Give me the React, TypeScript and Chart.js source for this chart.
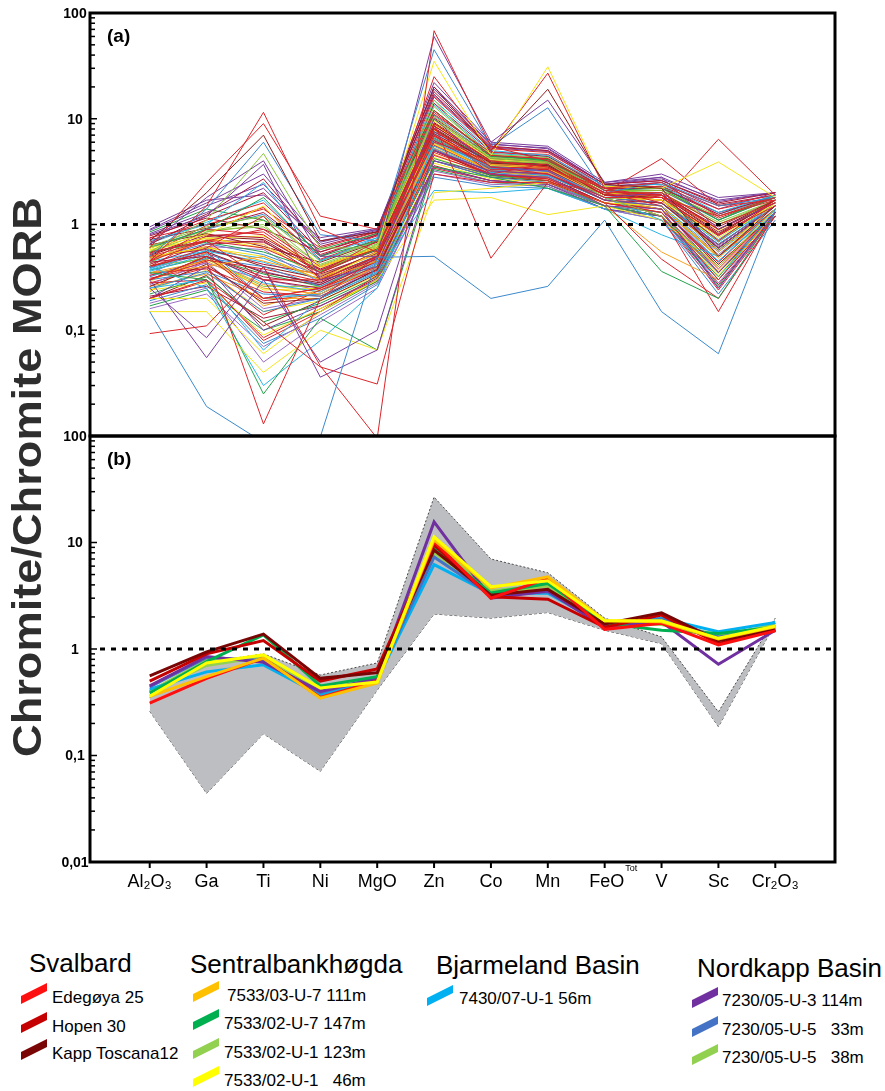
import React, { useEffect, useRef } from 'react';
import { Chart, registerables } from 'chart.js';

Chart.register(...registerables);

// ---------- data ----------
const elements = ['Al₂O₃', 'Ga', 'Ti', 'Ni', 'MgO', 'Zn', 'Co', 'Mn', 'FeO', 'V', 'Sc', 'Cr₂O₃'];
const feoSuperscript = 'Tot';
const yTickValuesA = [100, 10, 1, 0.1];
const yTickLabelsA = ['100', '10', '1', '0,1'];
const yTickValuesB = [100, 10, 1, 0.1, 0.01];
const yTickLabelsB = ['100', '10', '1', '0,1', '0,01'];
const referenceLevel = 1;
const yTitle = 'Chromite/Chromite MORB';

// Panel (a): individual chromite analyses (Al2O3 ... Cr2O3)
const panelALines: number[][] = [
  [0.15, 0.019, 0.0087, 0.0098, 0.49, 0.5, 0.2, 0.26, 1.1, 0.15, 0.06, 1.4],
  [0.093, 0.11, 0.4, 0.046, 0.0095, 68, 5.5, 4, 2.2, 2.5, 1.2, 1.8],
  [0.3, 0.45, 0.013, 0.2, 0.5, 8, 3.5, 3, 1.8, 1.8, 0.8, 1.5],
  [0.45, 1.5, 11.5, 0.9, 0.55, 6, 4, 3.5, 2, 2, 1, 1.6],
  [0.6, 2.5, 9, 1.2, 0.9, 12, 4.5, 4.2, 2.1, 1.9, 0.7, 1.7],
  [0.7, 2, 7, 0.7, 0.85, 20, 5, 19, 2.4, 2.2, 0.5, 1.5],
  [0.5, 1.4, 6, 0.8, 0.7, 45, 5.5, 12.7, 2, 2.5, 1.5, 1.8],
  [0.55, 1.1, 4.7, 0.6, 0.6, 15, 4, 3.8, 1.8, 1.2, 0.4, 1.4],
  [0.65, 1.8, 4, 0.5, 0.5, 60, 6, 15, 2.5, 2.8, 0.9, 1.6],
  [0.8, 1.2, 3.7, 0.3, 0.4, 10, 3.5, 3.2, 1.7, 1.5, 0.35, 1.3],
  [0.2, 0.3, 0.12, 0.045, 0.031, 3, 2.5, 2.5, 1.6, 1.3, 0.3, 1.2],
  [0.25, 0.085, 0.4, 0.036, 0.065, 4, 3, 2.8, 1.5, 1.4, 0.25, 1.3],
  [0.3, 0.055, 0.3, 0.05, 0.1, 5, 3.2, 3, 1.8, 2, 0.6, 1.5],
  [0.15, 0.15, 0.04, 0.1, 0.065, 2, 2.2, 2.5, 1.6, 1.5, 0.5, 1.6],
  [0.35, 0.3, 0.025, 0.13, 0.065, 3.5, 2.8, 2.2, 1.5, 0.36, 0.2, 1.3],
  [0.4, 0.25, 0.03, 0.08, 0.25, 6, 3.5, 3.2, 1.8, 1.1, 0.3, 1.4],
  [0.5, 0.7, 0.3, 0.3, 0.5, 9, 0.48, 2.5, 2, 1.5, 0.5, 1.4],
  [0.6, 0.8, 1.5, 0.4, 0.6, 35, 4.5, 31, 2.3, 2.2, 3.9, 1.8],
  [0.45, 0.9, 0.8, 0.35, 0.7, 25, 5, 27, 2.2, 1.8, 1.2, 1.7],
  [0.55, 0.7, 0.6, 0.35, 0.6, 7, 3.5, 3.4, 2.2, 1.6, 6.4, 1.9],
  [0.4, 0.6, 1.2, 0.3, 0.5, 8, 3, 3.8, 2, 4.2, 1.5, 1.7],
  [0.3, 0.5, 0.2, 0.25, 0.4, 5, 3, 2.6, 1.6, 0.47, 0.2, 1.2],
  [0.35, 0.4, 0.5, 0.3, 0.45, 6, 3.2, 2.8, 1.5, 0.55, 0.3, 1.3],
  [0.4, 0.55, 0.2, 0.25, 0.45, 7, 3.3, 3.3, 1.8, 1.2, 0.15, 1.3],
  [0.2, 0.2, 0.06, 0.15, 0.3, 1.7, 1.8, 1.24, 1.5, 1.1, 0.4, 1.4],
  [0.25, 0.3, 0.065, 0.2, 0.35, 2.1, 2, 2.2, 1.4, 0.8, 0.5, 1.2],
  [0.3, 0.5, 0.3, 0.25, 0.45, 5, 3.2, 3, 1.7, 1.6, 0.6, 1.5],
  [0.45, 0.7, 0.9, 0.4, 0.6, 9, 4, 3.5, 1.9, 1.9, 0.9, 1.6],
  [0.25, 0.35, 0.15, 0.2, 0.35, 4, 2.8, 2.5, 1.5, 1.3, 0.35, 1.3],
  [0.6, 0.9, 1.8, 0.5, 0.7, 12, 4.5, 4, 2.1, 2.2, 1.1, 1.8],
  [0.5, 0.6, 0.5, 0.3, 0.55, 7, 3.6, 3.4, 1.8, 1.7, 0.7, 1.6],
  [0.2, 0.4, 0.1, 0.17, 0.3, 3.5, 2.6, 2.4, 1.4, 1.2, 0.3, 1.2],
  [0.7, 1.0, 2.5, 0.45, 0.75, 15, 5, 4.5, 2.3, 2.4, 1.3, 1.9],
  [0.35, 0.45, 0.25, 0.22, 0.4, 6, 3.2, 3.1, 1.7, 1.4, 0.5, 1.4],
  [0.4, 0.55, 0.35, 0.28, 0.5, 8, 3.8, 3.6, 1.9, 1.8, 0.8, 1.7],
  [0.55, 0.85, 1.0, 0.35, 0.65, 10, 4.2, 3.9, 2, 2, 1, 1.6],
  [0.28, 0.3, 0.08, 0.15, 0.33, 4.5, 3, 2.7, 1.6, 1.4, 0.4, 1.3],
  [0.65, 1.2, 2, 0.55, 0.8, 18, 5.5, 5, 2.4, 2.6, 1.6, 2],
  [0.18, 0.25, 0.05, 0.12, 0.25, 3, 2.4, 2.3, 1.4, 1.1, 0.25, 1.2],
  [0.42, 0.65, 0.7, 0.32, 0.55, 7.5, 3.9, 3.7, 1.9, 1.9, 0.95, 1.7],
  [0.75, 1.0, 1.4, 0.6, 0.85, 11, 4.8, 4.6, 2.2, 2.3, 1.4, 1.8],
  [0.32, 0.48, 0.4, 0.26, 0.45, 6.5, 3.4, 3.2, 1.8, 1.6, 0.65, 1.5],
  [0.22, 0.32, 0.12, 0.18, 0.32, 4.2, 2.9, 2.6, 1.5, 1.2, 0.32, 1.3],
  [0.58, 0.75, 0.6, 0.4, 0.62, 9.5, 4.1, 3.8, 2, 1.8, 0.75, 1.6],
  [0.9, 1.6, 3, 0.7, 0.9, 22, 6, 5.5, 2.5, 3, 1.8, 2],
  [0.38, 0.6, 0.2, 0.22, 0.42, 5.5, 3.1, 2.9, 1.7, 1.5, 0.45, 1.4],
  [0.48, 0.62, 0.45, 0.33, 0.52, 7, 3.7, 3.5, 1.9, 1.7, 0.55, 1.5],
  [0.26, 0.42, 0.18, 0.2, 0.38, 5, 2.9, 2.8, 1.6, 1.4, 0.42, 1.3],
  [0.62, 0.95, 1.2, 0.45, 0.7, 13, 4.6, 4.3, 2.1, 2.1, 1.2, 1.8],
  [0.35, 0.38, 0.14, 0.24, 0.37, 4.8, 3, 2.7, 1.6, 1.3, 0.38, 1.3],
  [0.52, 0.8, 0.75, 0.38, 0.6, 8.5, 4, 3.7, 2, 1.9, 0.85, 1.6],
  [0.16, 0.22, 0.07, 0.14, 0.28, 3.2, 2.5, 2.4, 1.5, 1.2, 0.28, 1.2],
  [0.44, 0.5, 0.32, 0.27, 0.48, 6.2, 3.5, 3.3, 1.8, 1.6, 0.6, 1.5],
  [0.68, 1.1, 1.6, 0.52, 0.78, 16, 5.2, 4.8, 2.3, 2.4, 1.5, 1.9],
  [0.3, 0.36, 0.22, 0.21, 0.36, 5.2, 3.1, 2.9, 1.7, 1.4, 0.5, 1.4],
  [0.55, 0.68, 0.55, 0.36, 0.58, 8, 3.9, 3.6, 1.9, 1.8, 0.7, 1.6],
  [0.24, 0.28, 0.09, 0.16, 0.3, 3.8, 2.7, 2.5, 1.5, 1.3, 0.3, 1.3],
  [0.82, 1.3, 2.2, 0.65, 0.88, 20, 5.8, 5.2, 2.4, 2.7, 1.7, 2],
  [0.36, 0.52, 0.28, 0.23, 0.44, 6, 3.3, 3, 1.7, 1.5, 0.55, 1.4],
  [0.46, 0.72, 0.65, 0.31, 0.56, 7.8, 3.8, 3.5, 1.9, 1.7, 0.8, 1.7],
  [0.2, 0.33, 0.11, 0.19, 0.34, 4, 2.8, 2.6, 1.5, 1.2, 0.35, 1.2],
  [0.6, 0.88, 0.95, 0.42, 0.66, 10.5, 4.3, 4, 2.1, 2, 1, 1.7],
  [0.33, 0.46, 0.38, 0.29, 0.47, 6.8, 3.5, 3.3, 1.8, 1.6, 0.65, 1.5],
  [0.72, 0.92, 1.3, 0.5, 0.8, 14, 4.9, 4.4, 2.2, 2.2, 1.3, 1.8],
  [0.27, 0.44, 0.16, 0.2, 0.4, 5, 3, 2.8, 1.6, 1.4, 0.45, 1.4],
  [0.5, 0.58, 0.42, 0.34, 0.53, 7.2, 3.7, 3.4, 1.9, 1.7, 0.6, 1.5],
  [0.4, 0.78, 0.85, 0.37, 0.6, 9, 4, 3.8, 2, 2, 0.9, 1.6],
  [0.19, 0.27, 0.075, 0.13, 0.27, 2.8, 2.3, 2.2, 1.4, 1.1, 0.22, 1.1],
  [0.85, 1.4, 1.1, 0.58, 0.82, 12, 4.4, 4.1, 2.2, 2.3, 1.1, 1.9],
  [0.29, 0.5, 0.24, 0.25, 0.41, 5.8, 3.2, 3, 1.7, 1.5, 0.5, 1.4],
  [0.95, 1.7, 1.9, 0.75, 0.92, 16.5, 5.3, 4.9, 2.3, 2.5, 1.4, 2],
  [0.37, 0.57, 0.48, 0.3, 0.5, 7, 3.6, 3.3, 1.8, 1.6, 0.7, 1.5],
  [0.23, 0.55, 0.17, 0.24, 0.39, 5.3, 3.1, 3.0, 1.7, 1.5, 0.48, 1.4],
  [0.64, 0.82, 0.62, 0.44, 0.68, 9.2, 4.2, 3.9, 2.0, 2.0, 0.9, 1.7],
  [0.41, 0.47, 0.26, 0.26, 0.46, 6.4, 3.4, 3.2, 1.8, 1.6, 0.58, 1.5],
  [0.53, 0.98, 1.45, 0.47, 0.72, 11.5, 4.5, 4.2, 2.1, 2.1, 1.15, 1.8],
  [0.21, 0.26, 0.13, 0.17, 0.31, 3.6, 2.6, 2.4, 1.5, 1.2, 0.27, 1.2],
  [0.34, 0.62, 0.58, 0.28, 0.49, 7.1, 3.7, 3.4, 1.9, 1.7, 0.62, 1.6],
  [0.78, 1.15, 0.9, 0.55, 0.83, 10.2, 4.4, 4.1, 2.2, 2.2, 1.25, 1.9],
  [0.31, 0.4, 0.19, 0.22, 0.39, 5.6, 3.2, 2.9, 1.7, 1.4, 0.42, 1.3],
  [0.47, 0.66, 0.52, 0.33, 0.54, 7.6, 3.8, 3.6, 1.9, 1.8, 0.72, 1.6],
  [0.17, 0.24, 0.1, 0.15, 0.29, 3.3, 2.5, 2.3, 1.4, 1.2, 0.26, 1.2],
  [0.57, 0.74, 0.78, 0.39, 0.6, 8.8, 4.0, 3.7, 2.0, 1.9, 0.88, 1.7],
  [0.39, 0.53, 0.36, 0.27, 0.46, 6.3, 3.4, 3.2, 1.8, 1.6, 0.57, 1.5],
  [0.66, 1.05, 1.7, 0.51, 0.75, 13.5, 4.7, 4.4, 2.2, 2.3, 1.25, 1.8],
  [0.26, 0.34, 0.2, 0.2, 0.35, 4.6, 2.9, 2.7, 1.6, 1.3, 0.36, 1.3],
  [0.49, 0.6, 0.4, 0.31, 0.5, 6.9, 3.6, 3.4, 1.8, 1.7, 0.64, 1.5],
  [0.43, 0.85, 1.1, 0.41, 0.63, 9.8, 4.2, 4.0, 2.0, 2.0, 1.05, 1.7],
  [0.2, 0.29, 0.085, 0.16, 0.29, 3.4, 2.6, 2.4, 1.5, 1.2, 0.24, 1.2],
  [0.74, 1.25, 2.7, 0.62, 0.86, 17, 5.4, 5.0, 2.4, 2.6, 1.55, 1.9],
  [0.33, 0.43, 0.3, 0.24, 0.43, 5.9, 3.3, 3.1, 1.7, 1.5, 0.52, 1.4],
  [0.54, 0.71, 0.68, 0.37, 0.57, 8.2, 3.9, 3.6, 1.9, 1.8, 0.78, 1.6],
  [0.28, 0.39, 0.23, 0.21, 0.37, 5.1, 3.0, 2.8, 1.6, 1.4, 0.44, 1.4],
  [0.61, 0.9, 1.25, 0.46, 0.69, 10.8, 4.4, 4.1, 2.1, 2.1, 1.1, 1.8],
  [0.37, 0.49, 0.34, 0.26, 0.45, 6.6, 3.5, 3.2, 1.8, 1.6, 0.6, 1.5],
  [0.24, 0.37, 0.15, 0.19, 0.33, 4.3, 2.8, 2.6, 1.5, 1.3, 0.33, 1.3],
  [0.88, 1.5, 2.4, 0.68, 0.9, 19, 5.7, 5.3, 2.4, 2.8, 1.65, 2],
  [0.45, 0.56, 0.44, 0.3, 0.51, 7.3, 3.7, 3.5, 1.9, 1.7, 0.68, 1.6],
  [0.3, 0.47, 0.27, 0.23, 0.42, 5.7, 3.2, 3.0, 1.7, 1.5, 0.5, 1.4],
  [0.51, 0.77, 0.72, 0.35, 0.59, 8.6, 4.0, 3.8, 2.0, 1.9, 0.82, 1.7],
];

// Panel (b): envelope and sample averages
const envelopeUpper = [0.35, 0.75, 0.9, 0.57, 0.74, 26.7, 7.0, 5.2, 1.95, 1.3, 0.257, 1.95];
const envelopeLower = [0.26, 0.044, 0.16, 0.071, 0.41, 2.13, 1.95, 2.2, 1.5, 1.12, 0.186, 1.75];

const edegoya25 = [0.31, 0.53, 0.82, 0.35, 0.5, 10.2, 3.0, 4.6, 1.53, 1.74, 1.09, 1.48];
const hopen30 = [0.5, 0.9, 1.2, 0.5, 0.65, 9.5, 3.1, 2.93, 1.6, 2.08, 1.13, 1.5];
const kappToscana12 = [0.56, 0.94, 1.38, 0.53, 0.6, 8.5, 3.2, 3.63, 1.72, 2.19, 1.2, 1.53];
const s7533_03_U7_111 = [0.36, 0.55, 0.82, 0.345, 0.48, 10.6, 3.75, 4.77, 1.84, 1.8, 1.24, 1.62];
const s7533_02_U7_147 = [0.385, 0.76, 1.36, 0.45, 0.55, 9.0, 3.35, 4.13, 1.74, 1.5, 1.4, 1.6];
const s7533_02_U1_123 = [0.4, 0.7, 0.85, 0.42, 0.52, 9.8, 3.5, 4.0, 1.75, 1.7, 1.3, 1.7];
const s7533_02_U1_46 = [0.36, 0.74, 0.88, 0.43, 0.49, 11.3, 3.85, 4.38, 1.84, 1.84, 1.26, 1.64];
const s7430_07_U1_56 = [0.42, 0.61, 0.71, 0.37, 0.52, 6.2, 3.3, 3.35, 1.7, 1.94, 1.45, 1.77];
const s7230_05_U3_114 = [0.45, 0.85, 0.75, 0.4, 0.53, 15.6, 3.0, 3.5, 1.6, 1.8, 0.72, 1.5];
const s7230_05_U5_33 = [0.44, 0.83, 0.78, 0.39, 0.54, 7.3, 3.2, 3.45, 1.62, 1.9, 1.3, 1.55];
const s7230_05_U5_38 = [0.4, 0.78, 0.8, 0.41, 0.52, 8.0, 3.3, 3.9, 1.7, 1.8, 1.35, 1.65];

// Legend groups
const svalbardTitle = 'Svalbard';
const svalbardLabels = ['Edegøya 25', 'Hopen 30', 'Kapp Toscana12'];
const sentralTitle = 'Sentralbankhøgda';
const sentralLabels = ['7533/03-U-7 111m', '7533/02-U-7 147m', '7533/02-U-1 123m', '7533/02-U-1   46m'];
const bjarmelandTitle = 'Bjarmeland Basin';
const bjarmelandLabels = ['7430/07-U-1 56m'];
const nordkappTitle = 'Nordkapp Basin';
const nordkappLabels = ['7230/05-U-3 114m', '7230/05-U-5   33m', '7230/05-U-5   38m'];

// ---------- styles ----------
const C = {
  R: '#d9252b', M: '#a8183a', B: '#3b89cc', Cy: '#2ab3e6', G: '#23a24b', L: '#8cc63f',
  Y: '#f5e51b', O: '#f6a21d', P: '#7a3f9d', V: '#9a6cc2', D: '#8c1b1b',
};
const outlierColors = [C.B, C.R, C.R, C.R, C.R, C.D, C.B, C.L, C.P, C.P, C.R, C.P, C.P, C.Y, C.G, C.Cy,
  C.R, C.Y, C.R, C.R, C.R, C.R, C.O, C.R, C.Y, C.Cy];
const cycleColors = [C.M, C.R, C.B, C.G, C.Y, C.P, C.Cy, C.O, C.D, C.L, C.R, C.M, C.V];

const sampleColors = {
  edegoya: '#ff1010', hopen: '#c40000', kapp: '#7a0505', orange: '#ffc000', green: '#00b050',
  lightGreen: '#92d050', yellow: '#ffff00', cyan: '#00b0f0', purple: '#7030a0', blue: '#4472c4',
};

// first entry is drawn on top
const panelBSeries = [
  { data: s7533_02_U1_46, color: sampleColors.yellow },
  { data: s7533_03_U7_111, color: sampleColors.orange },
  { data: edegoya25, color: sampleColors.edegoya },
  { data: kappToscana12, color: sampleColors.kapp },
  { data: hopen30, color: sampleColors.hopen },
  { data: s7533_02_U7_147, color: sampleColors.green },
  { data: s7230_05_U3_114, color: sampleColors.purple },
  { data: s7230_05_U5_33, color: sampleColors.blue },
  { data: s7430_07_U1_56, color: sampleColors.cyan },
  { data: s7533_02_U1_123, color: sampleColors.lightGreen },
  { data: s7230_05_U5_38, color: sampleColors.lightGreen },
];

const FONT = '"Liberation Sans", Arial, Helvetica, sans-serif';
const toPts = (arr: number[]) => arr.map((v, i) => ({ x: i, y: v }));

function decorPlugin(yVals: number[], yLabels: string[], panelLabel: string, showX: boolean) {
  return {
    id: 'decor' + (showX ? 'B' : 'A'),
    afterDatasetsDraw(chart: any) {
      const { ctx, chartArea } = chart;
      const { left, right, top, bottom } = chartArea;
      const xs = chart.scales.x;
      const ys = chart.scales.y;
      ctx.save();
      // reference line at 1
      const yr = ys.getPixelForValue(referenceLevel);
      ctx.strokeStyle = '#000';
      ctx.lineWidth = 3;
      ctx.setLineDash([5, 6]);
      ctx.beginPath();
      ctx.moveTo(left + 10, yr);
      ctx.lineTo(right, yr);
      ctx.stroke();
      ctx.setLineDash([]);
      // inner log ticks
      ctx.lineWidth = 1.5;
      for (let e = -2; e < 2; e++) {
        for (let m = 1; m < 10; m++) {
          const v = m * Math.pow(10, e);
          const py = ys.getPixelForValue(v);
          ctx.beginPath();
          ctx.moveTo(left, py);
          ctx.lineTo(left + (m === 1 ? 7 : 5), py);
          ctx.stroke();
        }
      }
      // frame
      ctx.lineWidth = 3;
      ctx.strokeRect(left, top, right - left, bottom - top);
      // y labels
      ctx.fillStyle = '#000';
      ctx.font = `bold 14px ${FONT}`;
      ctx.textAlign = 'center';
      ctx.textBaseline = 'middle';
      yVals.forEach((v, i) => ctx.fillText(yLabels[i], 75, ys.getPixelForValue(v) + 1));
      // panel label
      ctx.font = `bold 19px ${FONT}`;
      ctx.textAlign = 'left';
      ctx.fillText(panelLabel, 107, top + 24);
      // x ticks & labels
      if (showX) {
        ctx.lineWidth = 2;
        ctx.textBaseline = 'middle';
        elements.forEach((lab, i) => {
          const px = xs.getPixelForValue(i);
          ctx.beginPath();
          ctx.moveTo(px, bottom);
          ctx.lineTo(px, bottom + 6);
          ctx.stroke();
          ctx.font = `18px ${FONT}`;
          ctx.textAlign = 'center';
          ctx.fillText(lab, px + (lab === 'FeO' ? 2 : 0), bottom + 20);
          if (lab === 'FeO') {
            const w = ctx.measureText(lab).width;
            ctx.font = `9px ${FONT}`;
            ctx.textAlign = 'left';
            ctx.fillText(feoSuperscript, px + 2 + w / 2 + 1, bottom + 7);
          }
        });
      }
      ctx.restore();
    },
  };
}

function baseOptions(padding: any) {
  return {
    animation: false,
    responsive: false,
    maintainAspectRatio: false,
    devicePixelRatio: 1,
    layout: { padding },
    events: [],
    plugins: { legend: { display: false }, tooltip: { enabled: false } },
    elements: { point: { radius: 0 }, line: { tension: 0 } },
    scales: {
      x: { type: 'linear', min: -1.05, max: 12.05, display: false },
      y: { type: 'logarithmic', min: 0.01, max: 100, display: false },
    },
  };
}

function PanelA() {
  const ref = useRef<HTMLCanvasElement>(null);
  useEffect(() => {
    const datasets = panelALines.map((line, i) => ({
      data: toPts(line),
      borderColor: i < outlierColors.length ? outlierColors[i] : cycleColors[(i - outlierColors.length) % cycleColors.length],
      borderWidth: 1,
      fill: false,
      pointRadius: 0,
    }));
    const chart = new Chart(ref.current!, {
      type: 'line',
      data: { datasets },
      options: baseOptions({ top: 13, left: 90, right: 50, bottom: 14 }) as any,
      plugins: [decorPlugin(yTickValuesA, yTickLabelsA, '(a)', false)],
    } as any);
    return () => chart.destroy();
  }, []);
  return <canvas ref={ref} width={885} height={450} style={{ position: 'absolute', left: 0, top: 0, width: 885, height: 450 }} />;
}

function PanelB() {
  const ref = useRef<HTMLCanvasElement>(null);
  useEffect(() => {
    const datasets: any[] = [
      ...panelBSeries.map((s) => ({ data: toPts(s.data), borderColor: s.color, borderWidth: 3, fill: false, pointRadius: 0 })),
      { data: toPts(envelopeUpper), borderColor: '#4a4a4a', borderWidth: 1, borderDash: [2, 2], backgroundColor: '#bdbec1', fill: '+1', pointRadius: 0 },
      { data: toPts(envelopeLower), borderColor: '#4a4a4a', borderWidth: 1, borderDash: [3, 2], fill: false, pointRadius: 0 },
    ];
    const chart = new Chart(ref.current!, {
      type: 'line',
      data: { datasets },
      options: baseOptions({ top: 16, left: 90, right: 50, bottom: 48 }) as any,
      plugins: [decorPlugin(yTickValuesB, yTickLabelsB, '(b)', true)],
    } as any);
    return () => chart.destroy();
  }, []);
  return <canvas ref={ref} width={885} height={490} style={{ position: 'absolute', left: 0, top: 420, width: 885, height: 490 }} />;
}

function Swatch({ x, y, color }: { x: number; y: number; color: string }) {
  return (
    <svg width={26} height={22} style={{ position: 'absolute', left: x, top: y }}>
      <polygon points="0,13 26,0 26,8 0,21" fill={color} />
    </svg>
  );
}

function LegendText({ x, cy, text, size }: { x: number; cy: number; text: string; size: number }) {
  return (
    <div style={{ position: 'absolute', left: x, top: cy - size / 2, fontSize: size, lineHeight: `${size}px`, fontFamily: FONT, color: '#000', whiteSpace: 'pre' }}>
      {text}
    </div>
  );
}

export default function App() {
  const svalbardColors = [sampleColors.edegoya, sampleColors.hopen, sampleColors.kapp];
  const sentralColors = [sampleColors.orange, sampleColors.green, sampleColors.lightGreen, sampleColors.yellow];
  const nordkappColors = [sampleColors.purple, sampleColors.blue, sampleColors.lightGreen];
  const svalbardY = [997, 1026, 1053];
  const sentralY = [995, 1023, 1052, 1080];
  const nordkappY = [1000, 1029, 1057];
  return (
    <div style={{ position: 'absolute', left: 0, top: 0, width: 885, height: 1091, background: '#fff', overflow: 'hidden' }}>
      <PanelA />
      <PanelB />
      <div style={{ position: 'absolute', left: 26.5 - 300, top: 477 - 20, width: 600, height: 40, lineHeight: '40px', fontSize: 40, fontWeight: 'bold', fontFamily: FONT, color: '#2e2e2e', textAlign: 'center', whiteSpace: 'nowrap', transform: 'rotate(-90deg) scaleX(1.13)' }}>
        {yTitle}
      </div>
      <LegendText x={29} cy={963} text={svalbardTitle} size={26} />
      {svalbardLabels.map((t, i) => (
        <React.Fragment key={t}>
          <Swatch x={21} y={svalbardY[i] - 14} color={svalbardColors[i]} />
          <LegendText x={52} cy={svalbardY[i]} text={t} size={17} />
        </React.Fragment>
      ))}
      <LegendText x={190} cy={964} text={sentralTitle} size={26} />
      {sentralLabels.map((t, i) => (
        <React.Fragment key={t}>
          <Swatch x={193} y={sentralY[i] - 14} color={sentralColors[i]} />
          <LegendText x={i === 0 ? 227 : 224} cy={sentralY[i]} text={t} size={17} />
        </React.Fragment>
      ))}
      <LegendText x={436} cy={965} text={bjarmelandTitle} size={26} />
      {bjarmelandLabels.map((t) => (
        <React.Fragment key={t}>
          <Swatch x={427} y={998 - 13} color={sampleColors.cyan} />
          <LegendText x={459} cy={998} text={t} size={17} />
        </React.Fragment>
      ))}
      <LegendText x={697} cy={968} text={nordkappTitle} size={26} />
      {nordkappLabels.map((t, i) => (
        <React.Fragment key={t}>
          <Swatch x={692} y={nordkappY[i] - 13} color={nordkappColors[i]} />
          <LegendText x={722} cy={nordkappY[i]} text={t} size={17} />
        </React.Fragment>
      ))}
    </div>
  );
}
